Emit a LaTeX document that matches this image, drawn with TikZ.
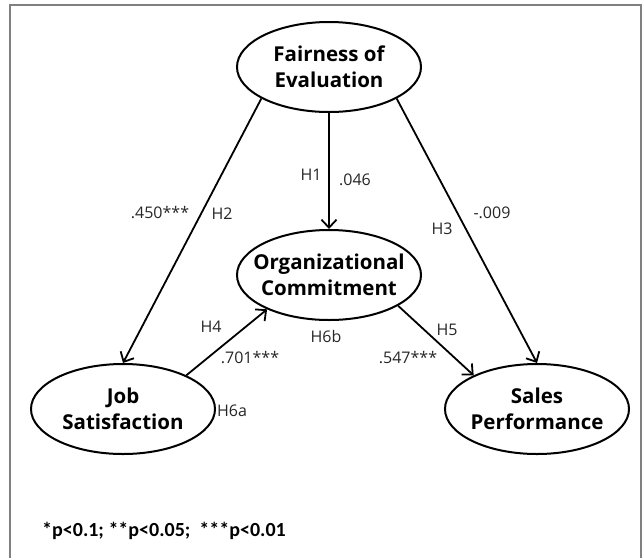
\documentclass[tikz,border=0pt]{standalone}
\usepackage{fontspec}
\setmainfont{Open Sans}
\newfontfamily\notefont{Carlito}
\usetikzlibrary{shapes.geometric,arrows.meta}
\tikzset{
  construct/.style={ellipse, draw=black, line width=2pt, minimum width=184pt, minimum height=90pt,
    inner sep=0pt, align=center, font=\fontsize{20.5}{26}\selectfont\bfseries},
  path/.style={draw=black, line width=1.8pt, -{Straight Barb[length=8pt,width=15pt,line width=1.8pt]}},
  coef/.style={font=\fontsize{16}{18}\selectfont, text=black!85, inner sep=0pt},
  frame/.style={draw=black!50, line width=1.6pt}
}
\begin{document}
\begin{tikzpicture}[x=1pt,y=-1pt]
\useasboundingbox (0,0) rectangle (643,558);
\draw[frame] (10,558) -- (10,5) -- (641,5) -- (641,558);

\node[construct] (F) at (329,67) {\makebox[0pt]{Fairness of}\\\makebox[0pt]{Evaluation}};
\node[construct] (O) at (329,275) {\makebox[0pt]{Organizational}\\\makebox[0pt]{Commitment}};
\node[construct] (J) at (123,409) {\makebox[0pt]{Job}\\\makebox[0pt]{Satisfaction}};
\node[construct] (S) at (537,409) {\makebox[0pt]{Sales}\\\makebox[0pt]{Performance}};

\draw[path] (F.205) -- (J.north);
\draw[path] (F.south) -- (O.north);
\draw[path] (F.335) -- (S.north);
\draw[path] (J.28) -- (O.209);
\draw[path] (O.336) -- (S.152);

\node[coef] (h1) at (311,175) {H1};
\node[coef] (c1) at (355,180) {.046};
\node[coef] (c2) at (160,213) {.450***};
\node[coef] (h2) at (222,214) {H2};
\node[coef] (h3) at (442,229) {H3};
\node[coef] (c3) at (492,213) {-.009};
\node[coef] (h4) at (211,327) {H4};
\node[coef] (c4) at (250,358) {.701***};
\node[coef] (h6b) at (326,336) {H6b};
\node[coef] (h5) at (447,330) {H5};
\node[coef] (c5) at (408,358) {.547***};
\node[coef] (h6a) at (232,411) {H6a};

\node[anchor=west, inner sep=0pt, font=\notefont\fontsize{20}{22}\selectfont\bfseries] (note) at (42,531) {*p<0.1;\ **p<0.05;\ \ ***p<0.01};
\end{tikzpicture}
\end{document}
